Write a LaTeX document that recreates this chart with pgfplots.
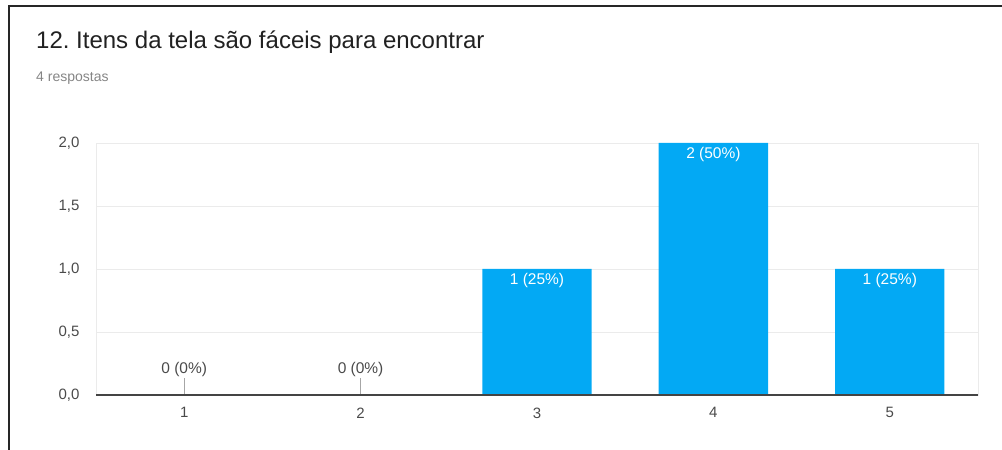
\documentclass[border=0pt]{standalone}
\usepackage{pgfplots}
\pgfplotsset{compat=1.18}
\usepackage{fontspec}
\setmainfont{Liberation Sans}
\frenchspacing
\definecolor{barblue}{HTML}{03A9F4}
\definecolor{txtgray}{HTML}{4A4A4A}
\definecolor{titlegray}{HTML}{212121}
\definecolor{subgray}{HTML}{858585}
\definecolor{gridgray}{HTML}{EBEBEB}
\definecolor{basegray}{HTML}{444444}
\begin{document}
\begin{tikzpicture}[x=1pt,y=1pt]
\useasboundingbox (0,0) rectangle (1002,450);
\draw[line width=1.5pt, black!85] (9,0) -- (9,444) -- (1002,444);
\node[anchor=base west, font=\fontsize{24}{28}\selectfont, text=titlegray, inner sep=0] at (36,401) {12. Itens da tela são fáceis para encontrar};
\node[anchor=base west, font=\fontsize{14}{16}\selectfont, text=subgray, inner sep=0] at (36,368) {4 respostas};
\begin{axis}[
  at={(96pt,55pt)}, anchor=south west,
  scale only axis, width=882pt, height=252pt,
  xmin=0.5, xmax=5.5, ymin=0, ymax=2,
  xtick={1,2,3,4,5}, xticklabels={1,2,3,4,5},
  ytick={0,0.5,1,1.5,2}, yticklabels={{0,0},{0,5},{1,0},{1,5},{2,0}},
  major tick length=0pt,
  ymajorgrids, grid style={draw=gridgray, line width=0.8pt},
  axis line style={draw=gridgray, line width=0.8pt},
  ticklabel style={font=\fontsize{15}{18}\selectfont, text=txtgray},
  xticklabel style={yshift=-9pt},
  yticklabel style={xshift=-13pt},
  clip=false,
]
\addplot[ybar, bar width=0.62, bar shift=0pt, fill=barblue, draw=none,
  nodes near coords, point meta=explicit symbolic,
  every node near coord/.style={anchor=north, text=white, inner sep=0pt, yshift=-4pt, font=\fontsize{15.5}{18}\selectfont}]
  table[col sep=comma, row sep=\\, meta=label] {x,y,label\\3,1,1 (25\%)\\4,2,2 (50\%)\\5,1,1 (25\%)\\};
\addplot[ycomb, draw=gray!70, line width=0.9pt, mark=none,
  nodes near coords, point meta=explicit symbolic,
  every node near coord/.style={anchor=south, text=txtgray, inner sep=0pt, yshift=1pt, font=\fontsize{15.5}{18}\selectfont}]
  table[col sep=comma, row sep=\\, meta=label] {x,y,label\\1,0.135,0 (0\%)\\2,0.135,0 (0\%)\\};
\draw[line width=2pt, basegray] (axis cs:0.5,0) -- (axis cs:5.5,0);
\end{axis}
\end{tikzpicture}
\end{document}
